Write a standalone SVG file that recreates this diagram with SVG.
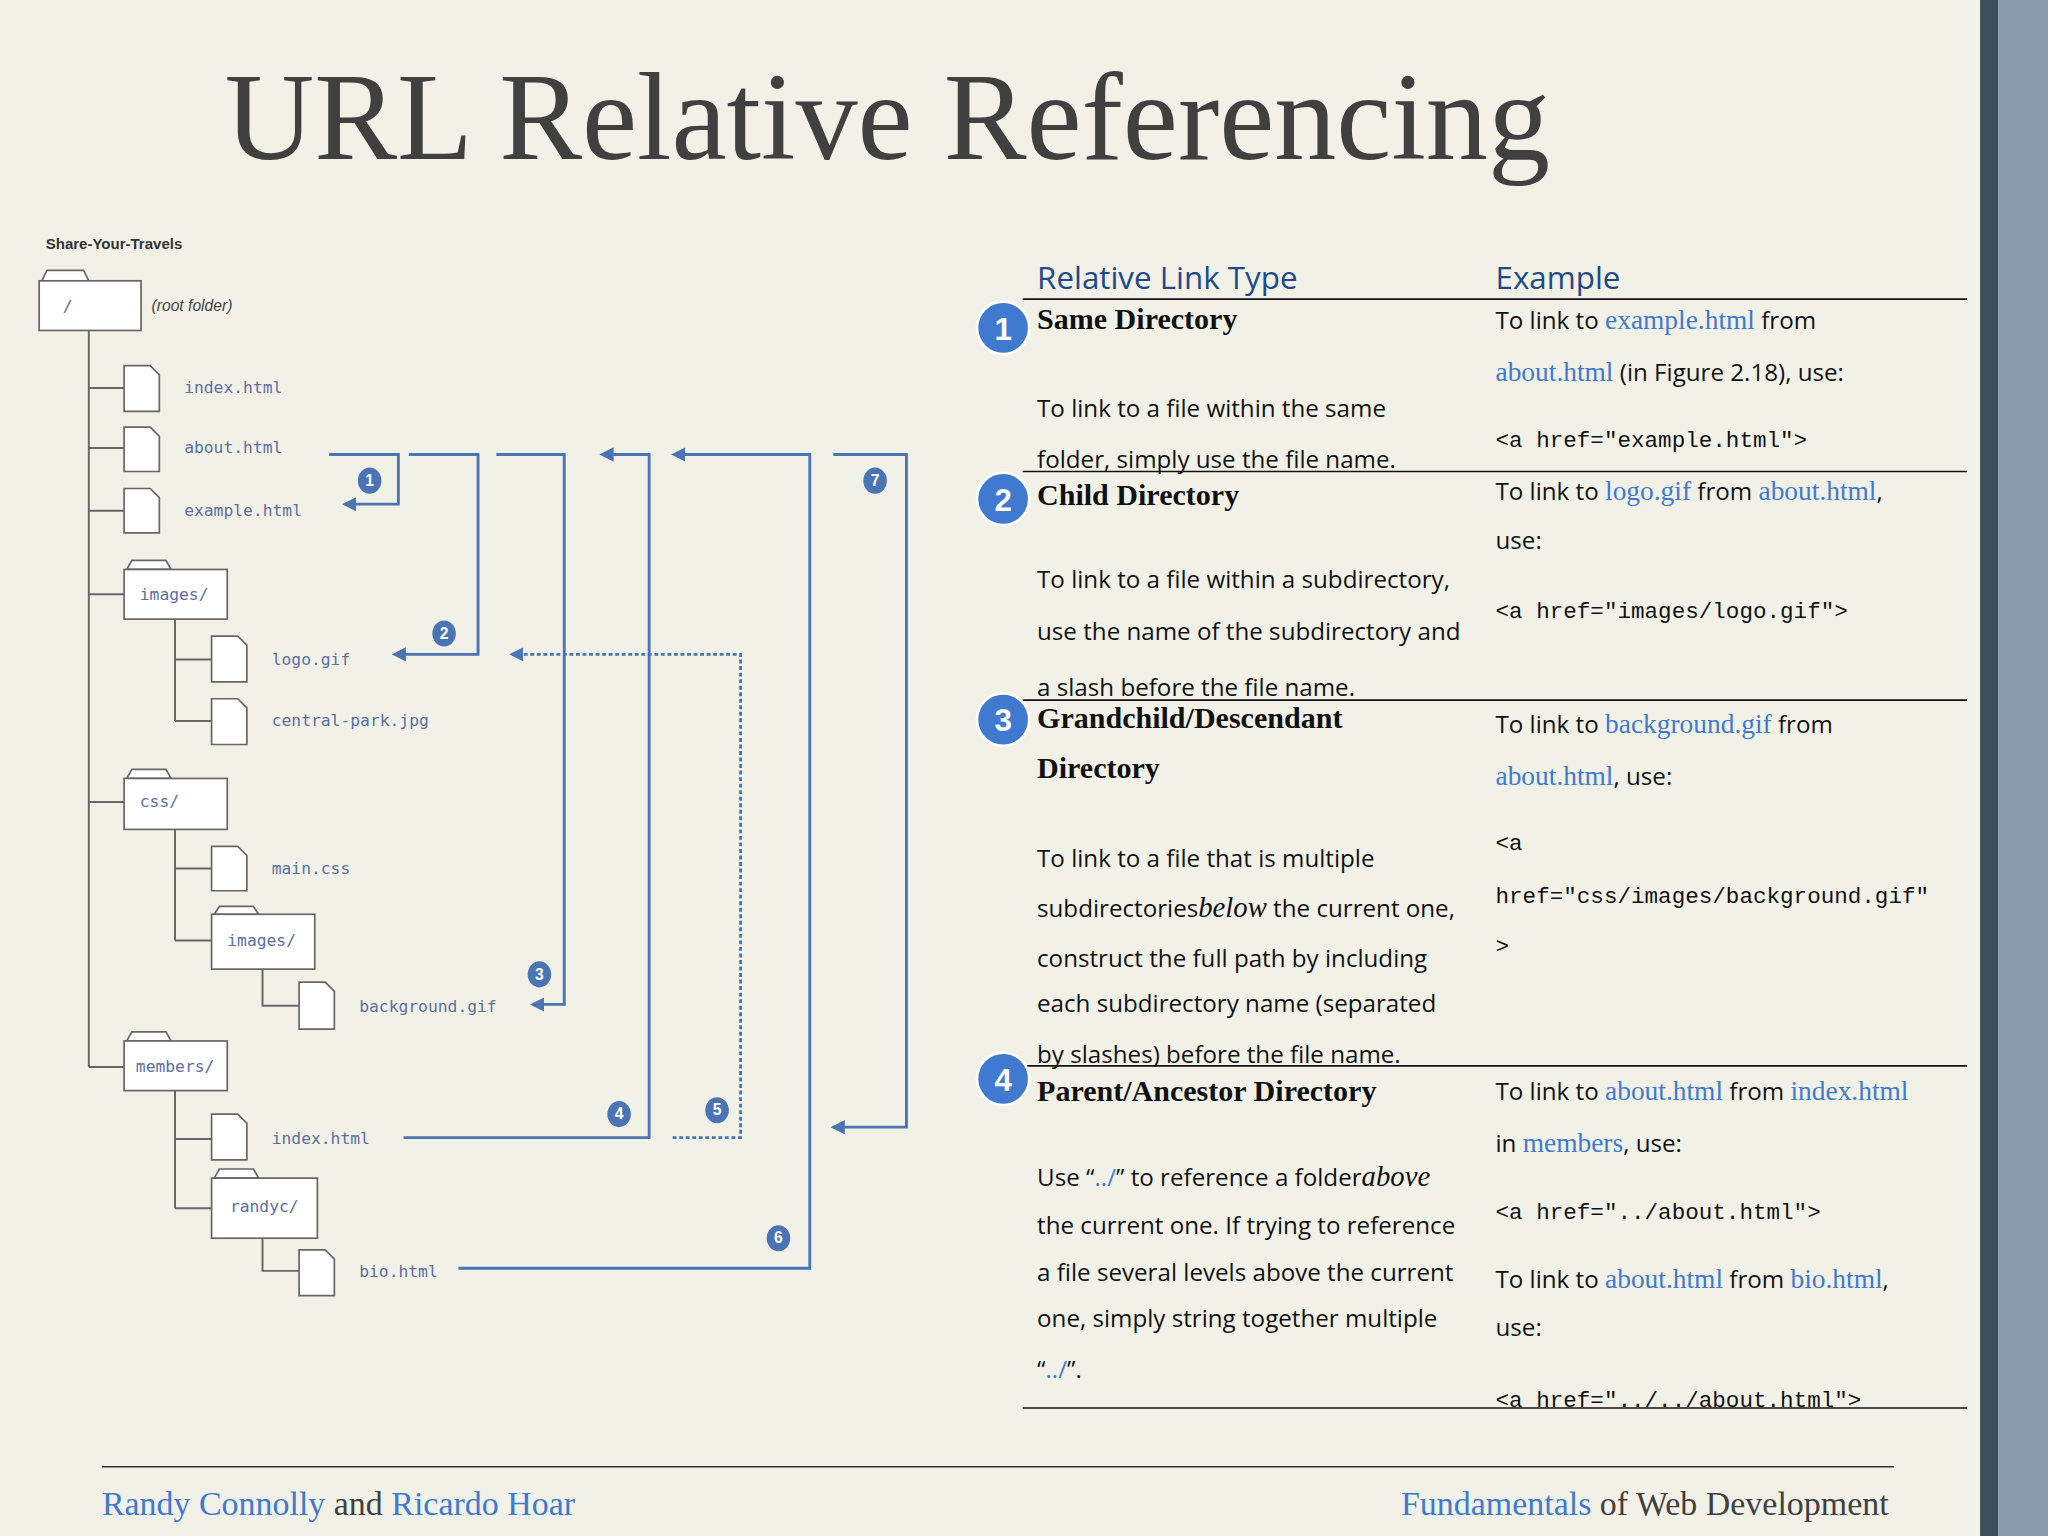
<svg xmlns="http://www.w3.org/2000/svg" width="2048" height="1536" viewBox="0 0 2048 1536">
<style>
.tr{stroke:#666;stroke-width:1.5;fill:none}
.fo{fill:#fff;stroke:#666;stroke-width:1.3}
.fl{font-family:"DejaVu Sans Mono",monospace;font-size:12.5px;fill:#5b6fa3}
.ar{stroke:#4a74b4;stroke-width:2.2;fill:none}
.bd{fill:#4a74b4}
.bt{font-family:"Liberation Sans",sans-serif;font-weight:bold;font-size:12px;fill:#fff;text-anchor:middle}
.ci{fill:#3f7ad0;stroke:#fff;stroke-width:2}
.cn{font-family:"Liberation Sans",sans-serif;font-weight:bold;font-size:24px;fill:#fff;text-anchor:middle}
.hd{font-family:"Open Sans",sans-serif;font-size:24px;fill:#1f4a8a}
.ty{font-family:"Liberation Serif",serif;font-weight:bold;font-size:23px;fill:#111}
.tx{font-family:"Open Sans",sans-serif;font-size:18.5px;fill:#111}
.mo{font-family:"Liberation Mono",monospace;font-size:17.3px;fill:#111}
.bl{font-family:"Liberation Serif",serif;font-size:21px;fill:#3f7ad0}
.ln{stroke:#111;stroke-width:1.3}
</style>
<defs>
<marker id="ah" viewBox="0 0 10 10" refX="8" refY="5" markerWidth="5" markerHeight="5" orient="auto"><path d="M0,0 L10,5 L0,10 z" fill="#4a74b4"/></marker>
</defs>
<rect width="2048" height="1536" fill="#f2f1e8"/>
<g transform="scale(1.30612)">
<rect x="1516" y="0" width="14" height="1176" fill="#3d4f5c"/>
<rect x="1530" y="0" width="38" height="1176" fill="#8a9cab"/>
<text x="172" y="122" font-family="Liberation Serif,serif" font-size="95" fill="#404040">URL Relative Referencing</text>

<g id="tree">
<text x="35" y="191" font-family="Liberation Sans,sans-serif" font-weight="bold" font-size="11.5" fill="#333">Share-Your-Travels</text>
<path class="tr" d="M68,253 V817 M68,297 H95 M68,343 H95 M68,391 H95 M68,455 H95 M68,614 H95 M68,817 H95 M134,474 V552 M134,505 H162 M134,552 H162 M134,635 V720 M134,665 H162 M134,720 H162 M201,742 V770 H229 M134,835 V925 M134,872 H162 M134,925 H162 M201,948 V973 H229"/>
<g id="root"><path class="fo" d="M32,215 L36,207 H64 L68,215 Z"/><rect class="fo" x="30" y="215" width="78" height="38"/><text x="48" y="239" class="fl" fill="#666">/</text><text x="116" y="238" font-family="Liberation Sans,sans-serif" font-style="italic" font-size="12" fill="#444">(root folder)</text></g>
<g id="f1"><path class="fo" d="M95,280 H115 L122,287 V315 H95 Z"/><text class="fl" x="141" y="301">index.html</text></g>
<g id="f2"><path class="fo" d="M95,327 H115 L122,334 V361 H95 Z"/><text class="fl" x="141" y="347">about.html</text></g>
<g id="f3"><path class="fo" d="M95,374 H115 L122,381 V408 H95 Z"/><text class="fl" x="141" y="395">example.html</text></g>
<g id="d1"><path class="fo" d="M97,436 L101,429 H127 L131,436 Z"/><rect class="fo" x="95" y="436" width="79" height="38"/><text class="fl" x="107" y="459">images/</text></g>
<g id="f4"><path class="fo" d="M162,487 H182 L189,494 V522 H162 Z"/><text class="fl" x="208" y="509">logo.gif</text></g>
<g id="f5"><path class="fo" d="M162,535 H182 L189,542 V570 H162 Z"/><text class="fl" x="208" y="556">central-park.jpg</text></g>
<g id="d2"><path class="fo" d="M97,596 L101,589 H127 L131,596 Z"/><rect class="fo" x="95" y="596" width="79" height="39"/><text class="fl" x="107" y="618">css/</text></g>
<g id="f6"><path class="fo" d="M162,648 H182 L189,655 V682 H162 Z"/><text class="fl" x="208" y="669">main.css</text></g>
<g id="d3"><path class="fo" d="M164,700 L168,694 H194 L198,700 Z"/><rect class="fo" x="162" y="700" width="79" height="42"/><text class="fl" x="174" y="724">images/</text></g>
<g id="f7"><path class="fo" d="M229,752 H249 L256,759 V788 H229 Z"/><text class="fl" x="275" y="775">background.gif</text></g>
<g id="d4"><path class="fo" d="M97,797 L101,790 H127 L131,797 Z"/><rect class="fo" x="95" y="797" width="79" height="38"/><text class="fl" x="104" y="821">members/</text></g>
<g id="f8"><path class="fo" d="M162,853 H182 L189,860 V888 H162 Z"/><text class="fl" x="208" y="876">index.html</text></g>
<g id="d5"><path class="fo" d="M164,902 L168,895 H194 L198,902 Z"/><rect class="fo" x="162" y="902" width="81" height="46"/><text class="fl" x="176" y="928">randyc/</text></g>
<g id="f9"><path class="fo" d="M229,957 H249 L256,964 V992 H229 Z"/><text class="fl" x="275" y="978">bio.html</text></g>
</g>

<g id="connectors">
<path class="ar" d="M252,348 H305 V386 H264" marker-end="url(#ah)"/>
<path class="ar" d="M313,348 H366 V501 H302" marker-end="url(#ah)"/>
<path class="ar" d="M380,348 H432 V769 H408" marker-end="url(#ah)"/>
<path class="ar" d="M309,871 H497 V348 H461" marker-end="url(#ah)"/>
<path class="ar" d="M515,871 H567 V501 H392" stroke-dasharray="3,2" marker-end="url(#ah)"/>
<path class="ar" d="M351,971 H620 V348 H516" marker-end="url(#ah)"/>
<path class="ar" d="M638,348 H694 V863 H638" marker-end="url(#ah)"/>
<g><ellipse class="bd" cx="283" cy="368" rx="9" ry="10"/><text class="bt" x="283" y="372">1</text></g>
<g><ellipse class="bd" cx="340" cy="485" rx="9" ry="10"/><text class="bt" x="340" y="489">2</text></g>
<g><ellipse class="bd" cx="413" cy="746" rx="9" ry="10"/><text class="bt" x="413" y="750">3</text></g>
<g><ellipse class="bd" cx="474" cy="853" rx="9" ry="10"/><text class="bt" x="474" y="857">4</text></g>
<g><ellipse class="bd" cx="549" cy="850" rx="9" ry="10"/><text class="bt" x="549" y="854">5</text></g>
<g><ellipse class="bd" cx="596" cy="948" rx="9" ry="10"/><text class="bt" x="596" y="952">6</text></g>
<g><ellipse class="bd" cx="670" cy="368" rx="9" ry="10"/><text class="bt" x="670" y="372">7</text></g>
</g>

<g id="table">
<text class="hd" x="794" y="221">Relative Link Type</text>
<text class="hd" x="1145" y="221">Example</text>
<line class="ln" x1="783" y1="229" x2="1506" y2="229" stroke-width="2"/>
<line class="ln" x1="783" y1="361" x2="1506" y2="361"/>
<line class="ln" x1="783" y1="536" x2="1506" y2="536"/>
<line class="ln" x1="783" y1="816" x2="1506" y2="816"/>
<line class="ln" x1="783" y1="1078" x2="1506" y2="1078"/>

<g id="r1">
<circle class="ci" cx="768" cy="251" r="20"/><text class="cn" x="768" y="260">1</text>
<text class="ty" x="794" y="252">Same Directory</text>
<text class="tx" x="794" y="319">To link to a file within the same</text>
<text class="tx" x="794" y="358">folder, simply use the file name.</text>
<text class="tx" x="1145" y="252">To link to <tspan class="bl">example.html</tspan> from</text>
<text class="tx" x="1145" y="292"><tspan class="bl">about.html</tspan> (in Figure 2.18), use:</text>
<text class="mo" x="1145" y="342">&lt;a href="example.html"&gt;</text>
</g>
<g id="r2">
<circle class="ci" cx="768" cy="382" r="20"/><text class="cn" x="768" y="391">2</text>
<text class="ty" x="794" y="387">Child Directory</text>
<text class="tx" x="794" y="450">To link to a file within a subdirectory,</text>
<text class="tx" x="794" y="490">use the name of the subdirectory and</text>
<text class="tx" x="794" y="533">a slash before the file name.</text>
<text class="tx" x="1145" y="383">To link to <tspan class="bl">logo.gif</tspan> from <tspan class="bl">about.html</tspan>,</text>
<text class="tx" x="1145" y="420">use:</text>
<text class="mo" x="1145" y="473">&lt;a href="images/logo.gif"&gt;</text>
</g>
<g id="r3">
<circle class="ci" cx="768" cy="551" r="20"/><text class="cn" x="768" y="560">3</text>
<text class="ty" x="794" y="557">Grandchild/Descendant</text>
<text class="ty" x="794" y="596">Directory</text>
<text class="tx" x="794" y="664">To link to a file that is multiple</text>
<text class="tx" x="794" y="702">subdirectories<tspan font-family="Liberation Serif,serif" font-style="italic" font-size="22">below</tspan> the current one,</text>
<text class="tx" x="794" y="740">construct the full path by including</text>
<text class="tx" x="794" y="775">each subdirectory name (separated</text>
<text class="tx" x="794" y="814">by slashes) before the file name.</text>
<text class="tx" x="1145" y="561">To link to <tspan class="bl">background.gif</tspan> from</text>
<text class="tx" x="1145" y="601"><tspan class="bl">about.html</tspan>, use:</text>
<text class="mo" x="1145" y="651">&lt;a</text>
<text class="mo" x="1145" y="691">href="css/images/background.gif"</text>
<text class="mo" x="1145" y="730">&gt;</text>
</g>
<g id="r4">
<circle class="ci" cx="768" cy="826" r="20"/><text class="cn" x="768" y="835">4</text>
<text class="ty" x="794" y="843">Parent/Ancestor Directory</text>
<text class="tx" x="794" y="908">Use “<tspan fill="#3f7ad0">../</tspan>” to reference a folder<tspan font-family="Liberation Serif,serif" font-style="italic" font-size="22">above</tspan></text>
<text class="tx" x="794" y="945">the current one. If trying to reference</text>
<text class="tx" x="794" y="981">a file several levels above the current</text>
<text class="tx" x="794" y="1016">one, simply string together multiple</text>
<text class="tx" x="794" y="1055">“<tspan fill="#3f7ad0">../</tspan>”.</text>
<text class="tx" x="1145" y="842">To link to <tspan class="bl">about.html</tspan> from <tspan class="bl">index.html</tspan></text>
<text class="tx" x="1145" y="882">in <tspan class="bl">members</tspan>, use:</text>
<text class="mo" x="1145" y="933">&lt;a href="../about.html"&gt;</text>
<text class="tx" x="1145" y="986">To link to <tspan class="bl">about.html</tspan> from <tspan class="bl">bio.html</tspan>,</text>
<text class="tx" x="1145" y="1023">use:</text>
<text class="mo" x="1145" y="1077">&lt;a href="../../about.html"&gt;</text>
</g>
</g>

<line x1="78" y1="1123" x2="1450" y2="1123" stroke="#333" stroke-width="1.3"/>
<text x="78" y="1160" font-family="Liberation Serif,serif" font-size="26" fill="#404040"><tspan fill="#3f7ad0">Randy Connolly</tspan> and <tspan fill="#3f7ad0">Ricardo Hoar</tspan></text>
<text x="1446" y="1160" text-anchor="end" font-family="Liberation Serif,serif" font-size="26" fill="#404040"><tspan fill="#3f7ad0">Fundamentals</tspan> of Web Development</text>
</g>
</svg>
